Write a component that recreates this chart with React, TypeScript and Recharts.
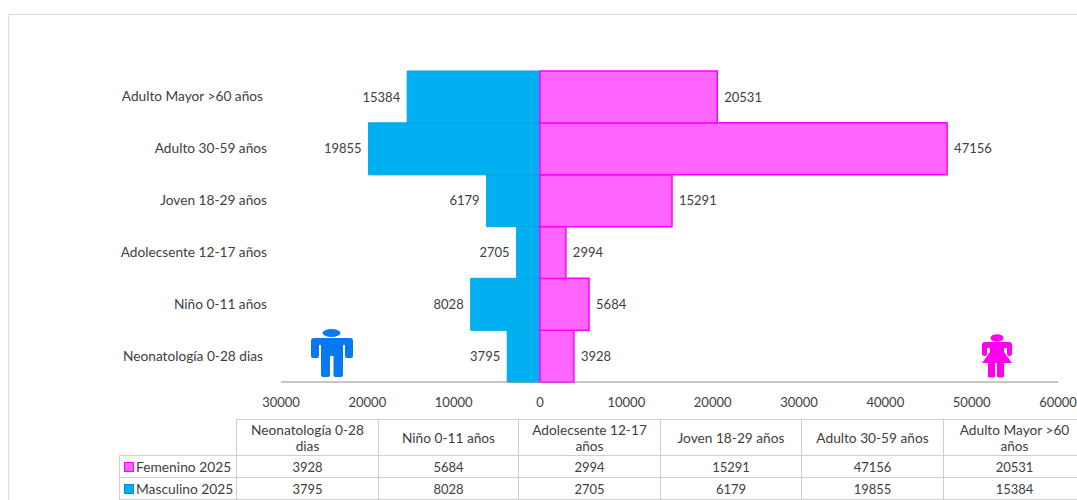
import { Bar, BarChart, LabelList, XAxis, YAxis } from "recharts";

const categories = [
  "Neonatología 0-28 dias",
  "Niño 0-11 años",
  "Adolecsente 12-17 años",
  "Joven 18-29 años",
  "Adulto 30-59 años",
  "Adulto Mayor >60 años",
];
const femenino = [3928, 5684, 2994, 15291, 47156, 20531];
const masculino = [3795, 8028, 2705, 6179, 19855, 15384];
const xTicks = [-30000, -20000, -10000, 0, 10000, 20000, 30000, 40000, 50000, 60000];

const FONT = "Lato, 'Open Sans', sans-serif";
const TEXT = "#404040";
const GRID = "#cfcfcf";
const COL_WIDTHS = [142, 140, 142, 141, 142, 142];

// men go left of zero, so they are stored negative for the chart only
const chartData = categories.map((name, i) => ({
  name,
  femenino: femenino[i],
  masculino: -masculino[i],
}));

const absLabel = (value: unknown) => String(Math.abs(Number(value)));

// the two longest labels sit a little further from the axis in the original
function CategoryTick({ x, y, payload }: any) {
  const long = String(payload.value).length > 20 && !String(payload.value).startsWith("Adolecsente");
  return (
    <text
      x={x - (long ? 4 : 0)}
      y={y}
      dy={4.5}
      textAnchor="end"
      fill={TEXT}
      fontSize={13.7}
      fontFamily={FONT}
    >
      {payload.value}
    </text>
  );
}

function ManIcon() {
  return (
    <svg
      width={44}
      height={49}
      viewBox="0 0 44 49"
      style={{ position: "absolute", left: 310, top: 329 }}
    >
      <ellipse cx="21.5" cy="4" rx="9" ry="4" fill="#0a78f0" />
      <path
        d="M4 9 H40 Q43 9 43 12 V27 Q43 29 41 29 H37 Q35 29 35 27 V16 H33 V46 Q33 48 31 48 H25.5 Q23.5 48 23.5 46 V27 H20 V46 Q20 48 18 48 H13 Q11 48 11 46 V16 H9 V27 Q9 29 7 29 H3 Q1 29 1 27 V12 Q1 9 4 9 Z"
        fill="#0a78f0"
      />
    </svg>
  );
}

function WomanIcon() {
  return (
    <svg
      width={32}
      height={44}
      viewBox="0 0 32 44"
      style={{ position: "absolute", left: 981, top: 334 }}
    >
      <ellipse cx="16" cy="4" rx="6.5" ry="3.8" fill="#ff00ee" />
      <path
        d="M4 8 H28 Q31 8 31 11 V20 Q31 22 29 22 H28 Q26 22 26 20 V14 H23 V18 L31 29 H23 V42 Q23 43.5 21.5 43.5 H17.5 Q16 43.5 16 42 V29 H14 V42 Q14 43.5 12.5 43.5 H8.5 Q7 43.5 7 42 V29 H1 L9 18 V14 H6 V20 Q6 22 4 22 H3 Q1 22 1 20 V11 Q1 8 4 8 Z"
        fill="#ff00ee"
      />
    </svg>
  );
}

function DataTable() {
  const cell = {
    border: `1px solid ${GRID}`,
    padding: 0,
    textAlign: "center" as const,
    lineHeight: "16px",
  };
  const rows = [
    { label: "Femenino 2025", values: femenino, fill: "#ff66ff", stroke: "#ff00ff" },
    { label: "Masculino 2025", values: masculino, fill: "#00b0f0", stroke: "#0090c8" },
  ];
  return (
    <table
      style={{
        position: "absolute",
        left: 119,
        top: 419,
        borderCollapse: "collapse",
        tableLayout: "fixed",
        width: 117 + COL_WIDTHS.reduce((a, b) => a + b, 0),
        fontFamily: FONT,
        fontSize: 13,
        color: TEXT,
      }}
    >
      <colgroup>
        <col style={{ width: 117 }} />
        {COL_WIDTHS.map((w, i) => (
          <col key={i} style={{ width: w }} />
        ))}
      </colgroup>
      <tbody>
        <tr style={{ height: 36 }}>
          <td style={{ borderRight: `1px solid ${GRID}`, padding: 0 }} />
          {categories.map((c) => (
            <td key={c} style={{ ...cell, padding: "0 10px", fontSize: 13.7 }}>
              {c}
            </td>
          ))}
        </tr>
        {rows.map((r) => (
          <tr key={r.label} style={{ height: 22 }}>
            <td
              style={{
                ...cell,
                textAlign: "left",
                paddingLeft: 4,
                whiteSpace: "nowrap",
                fontSize: 13.8,
              }}
            >
              <span
                style={{
                  display: "inline-block",
                  width: 8,
                  height: 8,
                  background: r.fill,
                  border: `1px solid ${r.stroke}`,
                  marginRight: 2,
                }}
              />
              {r.label}
            </td>
            {r.values.map((v, i) => (
              <td key={i} style={cell}>
                {v}
              </td>
            ))}
          </tr>
        ))}
      </tbody>
    </table>
  );
}

export default function App() {
  return (
    <div
      style={{
        position: "fixed",
        left: 0,
        top: 0,
        width: 1077,
        height: 500,
        overflow: "hidden",
        background: "#fff",
      }}
    >
      {/* frame of the pasted slide, runs off the right and bottom */}
      <div
        style={{
          position: "absolute",
          left: 8,
          top: 14,
          width: 1100,
          height: 520,
          border: "1px solid #dedede",
        }}
      />
      <div style={{ position: "absolute", left: 0, top: 0 }}>
        <BarChart
          width={1077}
          height={500}
          data={chartData}
          layout="vertical"
          stackOffset="sign"
          barCategoryGap={0}
          margin={{ top: 71, right: 19, bottom: 0, left: 0 }}
        >
          <XAxis
            type="number"
            domain={[-30000, 60000]}
            ticks={xTicks}
            tickFormatter={(v: number) => String(Math.abs(v))}
            tickLine={false}
            tickMargin={10}
            height={118}
            interval={0}
            axisLine={{ stroke: "#8c8c8c", strokeWidth: 1 }}
            tick={{ fill: TEXT, fontSize: 13, fontFamily: FONT }}
          />
          <YAxis
            type="category"
            dataKey="name"
            reversed
            width={281}
            axisLine={false}
            tickLine={false}
            tickSize={0}
            tickMargin={14}
            interval={0}
            tick={<CategoryTick />}
          />
          <Bar
            dataKey="masculino"
            stackId="pop"
            fill="#00b0f0"
            stroke="#00a5e2"
            isAnimationActive={false}
          >
            <LabelList
              dataKey="masculino"
              position="right"
              offset={7}
              formatter={absLabel}
              style={{ fill: TEXT, fontSize: 13, fontFamily: FONT }}
            />
          </Bar>
          <Bar
            dataKey="femenino"
            stackId="pop"
            fill="#ff66ff"
            stroke="#ff00ff"
            strokeWidth={1.5}
            isAnimationActive={false}
          >
            <LabelList
              dataKey="femenino"
              position="right"
              offset={7}
              formatter={absLabel}
              style={{ fill: TEXT, fontSize: 13, fontFamily: FONT }}
            />
          </Bar>
        </BarChart>
      </div>
      <ManIcon />
      <WomanIcon />
      <DataTable />
    </div>
  );
}
